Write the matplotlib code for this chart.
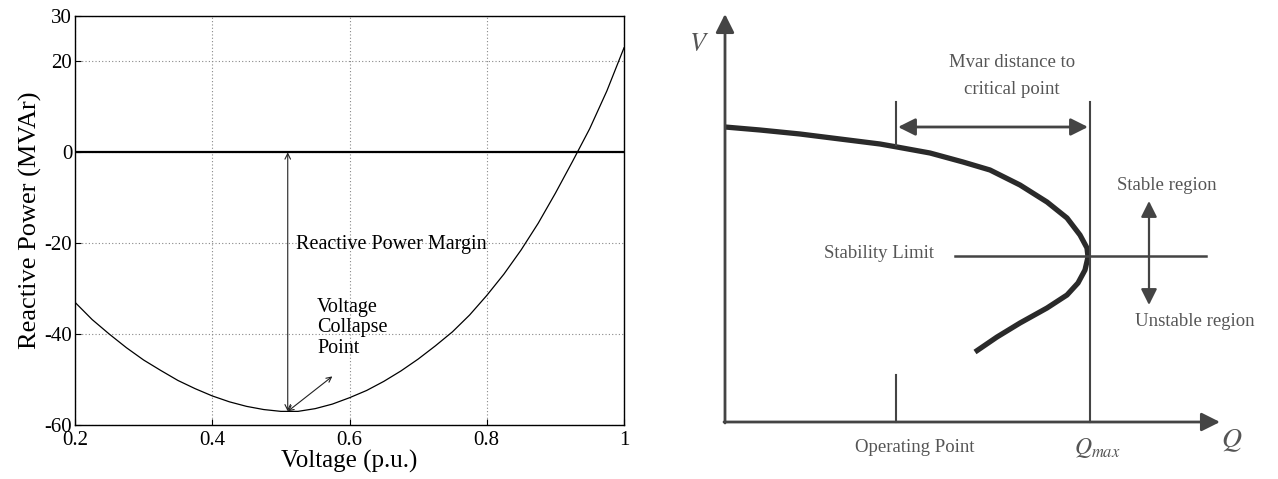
import matplotlib
matplotlib.use("Agg")
import matplotlib.pyplot as plt
import numpy as np

# ---------------- Left chart data ----------------
voltage = [0.20, 0.225, 0.25, 0.275, 0.30, 0.325, 0.35, 0.375, 0.40, 0.425, 0.45, 0.475,
           0.50, 0.525, 0.55, 0.575, 0.60, 0.625, 0.65, 0.675, 0.70, 0.725, 0.75, 0.775,
           0.80, 0.825, 0.85, 0.875, 0.90, 0.925, 0.95, 0.975, 1.00]
reactive = [-33.0, -36.8, -40.0, -43.0, -45.7, -48.0, -50.2, -52.0, -53.6, -54.9, -55.9, -56.6,
            -57.0, -57.0, -56.4, -55.4, -54.0, -52.4, -50.4, -48.1, -45.5, -42.6, -39.5, -35.8,
            -31.5, -26.8, -21.5, -15.6, -9.0, -2.0, 5.2, 13.5, 23.0]
x_ticks = [0.2, 0.4, 0.6, 0.8, 1.0]
x_tick_labels = ["0.2", "0.4", "0.6", "0.8", "1"]
y_ticks = [-60, -40, -20, 0, 20, 30]
y_tick_labels = ["-60", "-40", "-20", "0", "20", "30"]
collapse_v = 0.51
collapse_q = -57.0

# ---------------- Right schematic data (image-like units) ----------------
pv_q = [725, 760, 800, 840, 880, 897, 930, 963, 990, 1020, 1047, 1067, 1080,
        1087, 1088, 1085, 1078, 1067, 1047, 1020, 997, 975]
pv_v = [127, 130, 134, 139, 144, 147, 153, 162, 170, 185, 202, 218, 235,
        248, 257, 270, 283, 295, 308, 323, 337, 352]
q_axis_y = 422
v_axis_x = 725
op_point_q = 896
qmax_q = 1090
stability_v = 256

serif = ["Liberation Serif", "DejaVu Serif"]
W, H = 1278, 479
fig = plt.figure(figsize=(W / 100, H / 100), dpi=100)

# ---------------- Left axes ----------------
ax = fig.add_axes([75 / W, 1 - 425 / H, 549 / W, 409 / H])
ax.plot(voltage, reactive, color="black", lw=0.9)
ax.axhline(0, color="black", lw=1.6)
ax.set_xlim(0.2, 1.0)
ax.set_ylim(-60, 30)
ax.set_xticks(x_ticks)
ax.set_xticklabels(x_tick_labels, fontfamily=serif, fontsize=15)
ax.set_yticks(y_ticks)
ax.set_yticklabels(y_tick_labels, fontfamily=serif, fontsize=15)
ax.tick_params(direction="in", length=4, width=0.8)
ax.tick_params(axis="x", pad=4)
ax.tick_params(axis="y", pad=2)
ax.grid(True, linestyle=(0, (1, 2)), color="#888888", lw=0.8)
for s in ax.spines.values():
    s.set_linewidth(1.0)
ax.set_xlabel("Voltage (p.u.)", fontfamily=serif, fontsize=18, labelpad=0)
ax.set_ylabel("Reactive Power (MVAr)", fontfamily=serif, fontsize=19, labelpad=2)

ax.annotate("", xy=(collapse_v, 0), xytext=(collapse_v, collapse_q),
            arrowprops=dict(arrowstyle="<->", color="#222222", lw=0.8,
                            shrinkA=0, shrinkB=0, mutation_scale=10))
ax.annotate("", xy=(0.575, -49.3), xytext=(collapse_v, collapse_q),
            arrowprops=dict(arrowstyle="<->", color="#222222", lw=0.8,
                            shrinkA=0, shrinkB=0, mutation_scale=9))
ax.text(0.522, -20.3, "Reactive Power Margin", fontfamily=serif, fontsize=14.5,
        va="center", ha="left")
ax.text(0.553, -32.0, "Voltage\nCollapse\nPoint", fontfamily=serif, fontsize=14.5,
        va="top", ha="left", linespacing=1.1)

# ---------------- Right schematic ----------------
ax2 = fig.add_axes([640 / W, 0, 638 / W, 1])
ax2.set_xlim(640, 1278)
ax2.set_ylim(479, 0)
ax2.axis("off")
gray = "#444444"
tgray = "#555555"

# axes with arrowheads
ax2.annotate("", xy=(1220, q_axis_y), xytext=(v_axis_x - 1, q_axis_y),
             arrowprops=dict(arrowstyle="-|>", color=gray, lw=2.0,
                             shrinkA=0, shrinkB=0, mutation_scale=28))
ax2.annotate("", xy=(v_axis_x, 14), xytext=(v_axis_x, q_axis_y + 1),
             arrowprops=dict(arrowstyle="-|>", color=gray, lw=2.0,
                             shrinkA=0, shrinkB=0, mutation_scale=28))
# PV nose curve
ax2.plot(pv_q, pv_v, color="#2a2a2a", lw=3.8, solid_capstyle="butt",
         solid_joinstyle="round")
# vertical marker lines
ax2.plot([qmax_q, qmax_q], [102, q_axis_y], color=gray, lw=1.5)
ax2.plot([op_point_q, op_point_q], [102, 145], color=gray, lw=1.5)
ax2.plot([op_point_q, op_point_q], [375, q_axis_y], color=gray, lw=1.5)
# Mvar distance arrow
ax2.annotate("", xy=(op_point_q + 2, 127), xytext=(qmax_q - 2, 127),
             arrowprops=dict(arrowstyle="<|-|>", color=gray, lw=2.0,
                             shrinkA=0, shrinkB=0, mutation_scale=26))
# stability limit line
ax2.plot([955, 1206], [stability_v, stability_v], color=gray, lw=1.8)
# stable / unstable arrow
ax2.annotate("", xy=(1149, 201), xytext=(1149, 305),
             arrowprops=dict(arrowstyle="<|-|>", color=gray, lw=1.6,
                             shrinkA=0, shrinkB=0, mutation_scale=24))

tk = dict(fontfamily=serif, color=tgray, fontsize=13.5)
ax2.text(1012, 62, "Mvar distance to", ha="center", va="center", **tk)
ax2.text(1012, 89, "critical point", ha="center", va="center", **tk)
ax2.text(1167, 185, "Stable region", ha="center", va="center", **tk)
ax2.text(1195, 322, "Unstable region", ha="center", va="center", **tk)
ax2.text(879, 254, "Stability Limit", ha="center", va="center", **tk)
ax2.text(915, 447, "Operating Point", ha="center", va="center", **tk)
ax2.text(1097, 448, r"$Q_{max}$", ha="center", va="center", color=tgray,
         fontsize=17, math_fontfamily="stix")
ax2.text(1232, 440, r"$Q$", ha="center", va="center", color=tgray,
         fontsize=20, math_fontfamily="stix")
ax2.text(699, 44, r"$V$", ha="center", va="center", color=tgray,
         fontsize=19, math_fontfamily="stix")

fig.savefig("out.png", dpi=100, facecolor="white")
